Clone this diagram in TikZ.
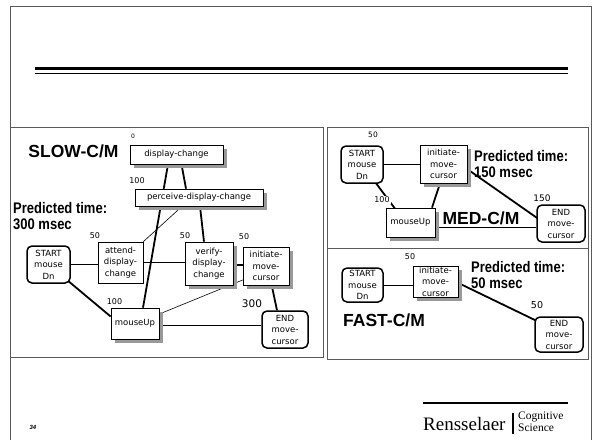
\documentclass[tikz,border=0pt]{standalone}
\usepackage{fontspec}
\usepackage{graphicx}
\setmainfont{DejaVu Sans}
\newfontfamily\hfont{Liberation Sans}
\newfontfamily\serfont{Liberation Serif}
\usetikzlibrary{calc,backgrounds,shadows}
\definecolor{shadowgray}{RGB}{153,153,153}
\definecolor{framegray}{RGB}{90,90,90}
\newcommand{\tallbf}[1]{\scalebox{1}[1.18]{#1}}
\begin{document}
\begin{tikzpicture}[x=1pt,y=-1pt,
  base/.style={draw, fill=white, align=center, inner sep=0pt, line width=0.7pt,
    font=\fontsize{8.5}{11.5}\selectfont},
  sbox/.style={base, general shadow={fill=shadowgray, shadow xshift=4pt, shadow yshift=-4pt}},
  pbox/.style={base},
  rbox/.style={base, rounded corners=5pt, line width=1.5pt},
  heavy/.style={line width=1.8pt},
  light/.style={line width=0.6pt},
  lab/.style={font=\fontsize{8}{8}\selectfont, inner sep=0pt},
  head/.style={font=\hfont\bfseries\fontsize{17.5}{18}\selectfont, inner sep=0pt},
  pred/.style={font=\hfont\bfseries\fontsize{13}{16}\selectfont, inner sep=0pt, anchor=west, align=left},
  panel/.style={draw=framegray, line width=0.8pt},
]
\useasboundingbox (0,0) rectangle (594,440);

% frame and title rule
\draw[panel] (10,440) -- (10,6) -- (591,6) -- (591,440);
\draw[line width=3pt] (35,68) -- (568,68);
\draw[line width=1pt] (35,73) -- (568,73);

% panels
\draw[panel] (10,127) rectangle (323,357);
\draw[panel] (327,127) rectangle (588,248);
\draw[panel] (327,248) rectangle (588,359);

% ---------------- SLOW ----------------
\node[head] (tslow) at (73.5,151) {SLOW-C/M};
\node[sbox, minimum width=93pt, minimum height=19pt] (dc) at (176.5,154.5) {display-change};
\node[sbox, minimum width=128pt, minimum height=17pt] (pdc) at (199,197.5) {perceive-display-change};
\node[rbox, minimum width=43pt, minimum height=37pt] (startS) at (48.5,264.5) {START\\mouse\\Dn};
\node[pbox, minimum width=45pt, minimum height=41pt] (att) at (120.5,262.5) {attend-\\display-\\change};
\node[sbox, minimum width=48pt, minimum height=43pt] (ver) at (209,263.5) {verify-\\display-\\change};
\node[sbox, minimum width=46pt, minimum height=38pt] (iniS) at (266,266) {initiate-\\move-\\cursor};
\node[sbox, minimum width=48pt, minimum height=31pt] (muS) at (135,323.5) {mouseUp};
\node[rbox, minimum width=46pt, minimum height=37pt] (endS) at (285,329.5) {END\\move-\\cursor};

\node[lab, font=\fontsize{6}{6}\selectfont] (l0) at (133,136) {0};
\node[lab] (l100a) at (137,181) {100};
\node[lab] (l50a) at (95,236) {50};
\node[lab] (l50b) at (185,236) {50};
\node[lab] (l50c) at (244,237) {50};
\node[lab] (l100b) at (114.5,301.5) {100};
\node[lab, font=\fontsize{10.5}{10.5}\selectfont] (l300) at (252,304) {300};
\node[pred] (pslow) at (13,216) {\tallbf{Predicted time:}\\\tallbf{300 msec}};

\begin{pgfonlayer}{background}
  \draw[heavy] ([xshift=-8.5pt]dc.south) -- ([xshift=8pt]muS.north);
  \draw[heavy] ([xshift=5pt]dc.south) -- ([xshift=-13pt]pdc.north);
  \draw[heavy] ([xshift=1pt]pdc.south) -- ([xshift=-5pt]ver.north);
  \draw[light] ([xshift=-17pt]pdc.south) -- (att.north east);
  \draw[light] (startS.east) -- (startS.east -| att.west);
  \draw[light] (att.east) -- (att.east -| ver.west);
  \draw[heavy] ([yshift=-1.5pt]ver.east) -- ([yshift=-1.5pt]ver.east -| iniS.west);
  \draw[heavy] (startS.center) -- ([yshift=7pt]muS.west);
  \draw[light] ([yshift=9.5pt]muS.east) -- ([yshift=-14pt]iniS.west);
  \draw[light] ([yshift=-1.5pt]muS.east) -- ([yshift=-1.5pt]muS.east -| endS.west);
  \draw[heavy] ([xshift=5.7pt]iniS.south) -- ([xshift=-8pt]endS.north);
\end{pgfonlayer}

% ---------------- MED ----------------
\node[rbox, minimum width=42pt, minimum height=37pt] (startM) at (362,164.5) {START\\mouse\\Dn};
\node[sbox, minimum width=47pt, minimum height=38pt] (iniM) at (443.5,164) {initiate-\\move-\\cursor};
\node[sbox, minimum width=49pt, minimum height=29pt] (muM) at (410.5,222.5) {mouseUp};
\node[rbox, minimum width=48pt, minimum height=37pt] (endM) at (561,223.5) {END\\move-\\cursor};
\node[lab, font=\fontsize{7.5}{7.5}\selectfont] (m50) at (373,135) {50};
\node[pred] (pmed) at (474,164) {\tallbf{Predicted time:}\\\tallbf{150 msec}};
\node[lab, fill=white, inner sep=1pt] (m100) at (382,200) {100};
\node[lab, font=\fontsize{9}{9}\selectfont] (m150) at (542,198) {150};
\node[head] (tmed) at (481,218) {MED-C/M};

\begin{pgfonlayer}{background}
  \draw[light] (startM.east) -- (startM.east -| iniM.west);
  \draw[heavy] (startM.center) -- ([xshift=-14.5pt,yshift=12.5pt]muM.center);
  \draw[heavy] ([xshift=-3.5pt]iniM.south) -- ([xshift=21.5pt]muM.north);
  \draw[heavy] ([xshift=16.5pt]iniM.center) -- ([xshift=-16pt]endM.center);
  \draw[light] ([yshift=-4.5pt]muM.east) -- ([yshift=-4.5pt]muM.east -| endM.west);
\end{pgfonlayer}

% ---------------- FAST ----------------
\node[rbox, minimum width=41pt, minimum height=34pt] (startF) at (362.5,285) {START\\mouse\\Dn};
\node[sbox, minimum width=45pt, minimum height=31pt] (iniF) at (435.5,281.5) {initiate-\\move-\\cursor};
\node[rbox, minimum width=48pt, minimum height=35pt] (endF) at (559,334.5) {END\\move-\\cursor};
\node[lab] (f50a) at (410,257) {50};
\node[pred] (pfast) at (471,275) {\tallbf{Predicted time:}\\\tallbf{50 msec}};
\node[lab, font=\fontsize{9.5}{9.5}\selectfont] (f50b) at (537,305) {50};
\node[head] (tfast) at (384,320) {FAST-C/M};

\begin{pgfonlayer}{background}
  \draw[light] (startF.east) -- (startF.east -| iniF.west);
  \draw[heavy] ([yshift=-1.5pt]iniF.east) -- ([xshift=-19pt,yshift=12pt]endF.center);
\end{pgfonlayer}

% ---------------- footer ----------------
\node[font=\hfont\bfseries\itshape\fontsize{6}{6}\selectfont, inner sep=0pt] (pg) at (33,427) {34};
\draw[line width=1.5pt] (423,403) -- (568,403);
\node[font=\serfont\fontsize{19}{19}\selectfont, inner sep=0pt, anchor=base west] (rpi) at (423,430) {Rensselaer};
\draw[line width=1.2pt] (513,413) -- (513,434);
\node[font=\serfont\fontsize{11.5}{12}\selectfont, inner sep=0pt, anchor=base west] (cog) at (518,419) {Cognitive};
\node[font=\serfont\fontsize{11.5}{12}\selectfont, inner sep=0pt, anchor=base west] (sci) at (518,431) {Science};
\end{tikzpicture}
\end{document}
